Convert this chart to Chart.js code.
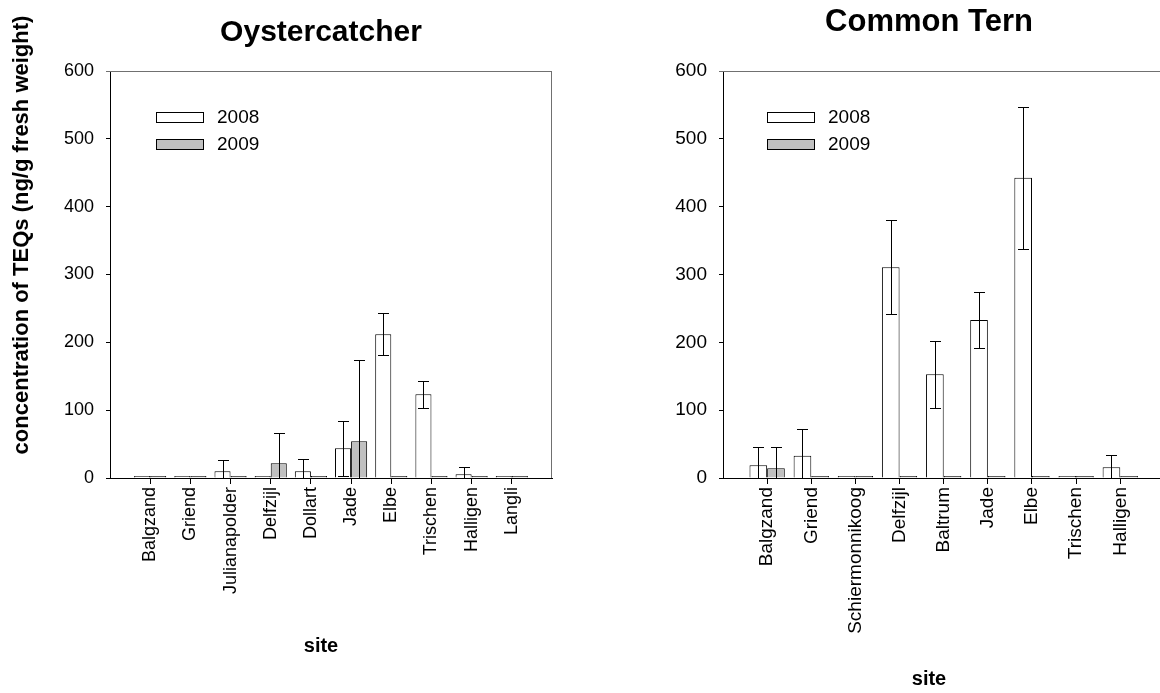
<!DOCTYPE html>
<html>
<head>
<meta charset="utf-8">
<script src="https://cdn.jsdelivr.net/npm/chart.js@4.4.1/dist/chart.umd.min.js"></script>
<style>
  html, body { margin: 0; padding: 0; background: #fff; }
  #wrap { position: relative; width: 1160px; height: 693px; }
  canvas { position: absolute; top: 0; }
</style>
</head>
<body>
<div id="wrap">
  <canvas id="oyster" width="580" height="693" style="left:0"></canvas>
  <canvas id="tern" width="580" height="693" style="left:580px"></canvas>
</div>
<script>
// Oystercatcher
const oysterSites = ['Balgzand', 'Griend', 'Julianapolder', 'Delfzijl', 'Dollart', 'Jade', 'Elbe', 'Trischen', 'Halligen', 'Langli'];
const oyster2008 = [0.8, 0.6, 9.9, 1.5, 9.9, 43.8, 211.9, 123.4, 5.5, 0.6];
const oyster2008Err = [0, 0, 17, 0, 17.7, 40.7, 31, 20, 11.2, 0];
const oyster2009 = [0.8, 0.6, 1.8, 21.7, 0.6, 54.1, 1.8, 0.6, 0.5, 0.5];
const oyster2009Err = [0, 0, 0, 45, 0, 119.4, 0, 0, 0, 0];

// Common Tern
const ternSites = ['Balgzand', 'Griend', 'Schiermonnikoog', 'Delfzijl', 'Baltrum', 'Jade', 'Elbe', 'Trischen', 'Halligen'];
const tern2008 = [18.7, 32.9, 2, 310.6, 152.9, 232.9, 442.7, 3, 15.8];
const tern2008Err = [27.4, 39, 0, 69.3, 49.5, 41, 104.7, 0, 18.6];
const tern2009 = [14.3, 0.5, 1, 2, 1, 2, 3, 2, 1];
const tern2009Err = [31.8, 0, 0, 0, 0, 0, 0, 0, 0];

const yTicks = [0, 100, 200, 300, 400, 500, 600];
const years = ['2008', '2009'];
const yearColors = ['#ffffff', '#c0c0c0'];

const FONT = '"Liberation Sans", Arial, Helvetica, sans-serif';
Chart.defaults.font.family = FONT;
Chart.defaults.color = '#000';

// error bars drawn through the y scale
const errorBars = {
    id: 'errorBars',
    afterDatasetsDraw(chart) {
        const ctx = chart.ctx;
        const y = chart.scales.y;
        ctx.save();
        ctx.strokeStyle = '#000';
        ctx.lineWidth = 1;
        chart.data.datasets.forEach((ds, d) => {
            const meta = chart.getDatasetMeta(d);
            meta.data.forEach((bar, i) => {
                const e = ds.errors[i];
                if (!e) return;
                const v = ds.data[i].y;
                const x = Math.round(bar.x) + 0.5;
                const top = Math.round(y.getPixelForValue(v + e)) + 0.5;
                const low = v - e;
                const bottom = Math.round(y.getPixelForValue(Math.max(low, 0))) + 0.5;
                ctx.beginPath();
                ctx.moveTo(x, top);
                ctx.lineTo(x, bottom);
                ctx.moveTo(x - 5.5, top);
                ctx.lineTo(x + 5.5, top);
                if (low > 0) {
                    ctx.moveTo(x - 5.5, bottom);
                    ctx.lineTo(x + 5.5, bottom);
                }
                ctx.stroke();
            });
        });
        ctx.restore();
    }
};

// frame, titles and legend
const decor = {
    id: 'decor',
    afterDraw(chart, args, o) {
        const ctx = chart.ctx;
        const a = chart.chartArea;
        ctx.save();
        ctx.strokeStyle = '#707070';
        ctx.lineWidth = 1;
        ctx.beginPath();
        ctx.moveTo(a.left - 4, Math.round(a.top) + 0.5);
        ctx.lineTo(a.right, Math.round(a.top) + 0.5);
        if (o.rightBorder) {
            ctx.moveTo(Math.round(a.right) - 0.5, a.top);
            ctx.lineTo(Math.round(a.right) - 0.5, a.bottom);
        }
        ctx.stroke();

        ctx.fillStyle = '#000';
        ctx.textAlign = 'center';
        ctx.textBaseline = 'alphabetic';
        ctx.font = 'bold ' + o.titleSize + 'px ' + FONT;
        ctx.fillText(o.title, o.titleX, o.titleY);
        ctx.font = 'bold 20px ' + FONT;
        ctx.fillText('site', o.siteX, o.siteY);
        if (o.yTitle) {
            ctx.save();
            ctx.translate(28, 235);
            ctx.rotate(-Math.PI / 2);
            ctx.font = 'bold 22px ' + FONT;
            ctx.fillText(o.yTitle, 0, 0);
            ctx.restore();
        }

        ctx.font = '19px ' + FONT;
        ctx.textAlign = 'left';
        ctx.textBaseline = 'middle';
        chart.data.datasets.forEach((ds, d) => {
            const top = o.legendY + d * 27;
            ctx.fillStyle = ds.backgroundColor;
            ctx.fillRect(o.legendX, top, 48, 10);
            ctx.strokeStyle = '#000';
            ctx.strokeRect(o.legendX + 0.5, top + 0.5, 47, 10);
            ctx.fillStyle = '#000';
            ctx.fillText(ds.label, o.legendX + 61, top + 6);
        });
        ctx.restore();
    }
};

function makeChart(id, sites, v08, e08, v09, e09, cfg) {
    const values = [v08, v09];
    const errors = [e08, e09];
    const datasets = years.map((yr, k) => ({
        label: yr,
        data: values[k].map((v, i) => ({ x: i + 1, y: v })),
        errors: errors[k],
        backgroundColor: yearColors[k],
        borderColor: '#000',
        borderWidth: 1,
        minBarLength: 2,
        barPercentage: 1.0,
        categoryPercentage: 0.8
    }));
    return new Chart(document.getElementById(id), {
        type: 'bar',
        data: { datasets: datasets },
        options: {
            responsive: false,
            animation: false,
            layout: { padding: { left: 0, top: 71, right: cfg.padRight, bottom: 0 } },
            scales: {
                x: {
                    type: 'linear',
                    min: 0,
                    max: cfg.xMax,
                    offset: false,
                    afterBuildTicks: s => { s.ticks = sites.map((_, i) => ({ value: i + 1 })); },
                    afterFit: s => { s.height = 215; },
                    ticks: {
                        autoSkip: false,
                        minRotation: 90,
                        maxRotation: 90,
                        padding: 3,
                        font: { size: cfg.tickSize },
                        callback: (v, i) => sites[i]
                    },
                    grid: { offset: false, drawOnChartArea: false, drawTicks: true, tickLength: 6, color: '#000' },
                    border: { display: true, color: '#000', width: 1 }
                },
                y: {
                    min: 0,
                    max: 600,
                    afterBuildTicks: s => { s.ticks = yTicks.map(v => ({ value: v })); },
                    afterFit: s => { s.width = cfg.yWidth; },
                    ticks: { padding: 12, font: { size: cfg.tickSize } },
                    grid: { drawOnChartArea: false, drawTicks: true, tickLength: 4, color: '#000' },
                    border: { display: true, color: '#000', width: 1 }
                }
            },
            plugins: {
                legend: { display: false },
                tooltip: { enabled: false },
                decor: cfg.decor
            }
        },
        plugins: [errorBars, decor]
    });
}

makeChart('oyster', oysterSites, oyster2008, oyster2008Err, oyster2009, oyster2009Err, {
    xMax: 11, padRight: 28, yWidth: 110, tickSize: 18,
    decor: {
        title: 'Oystercatcher', titleSize: 30, titleX: 321, titleY: 41,
        siteX: 321, siteY: 652, legendX: 156, legendY: 112,
        yTitle: 'concentration of TEQs (ng/g fresh weight)', rightBorder: true
    }
});

makeChart('tern', ternSites, tern2008, tern2008Err, tern2009, tern2009Err, {
    xMax: 9.9, padRight: 0, yWidth: 143, tickSize: 19,
    decor: {
        title: 'Common Tern', titleSize: 31, titleX: 349, titleY: 31,
        siteX: 349, siteY: 685, legendX: 187, legendY: 112,
        yTitle: null, rightBorder: false
    }
});
</script>
</body>
</html>
